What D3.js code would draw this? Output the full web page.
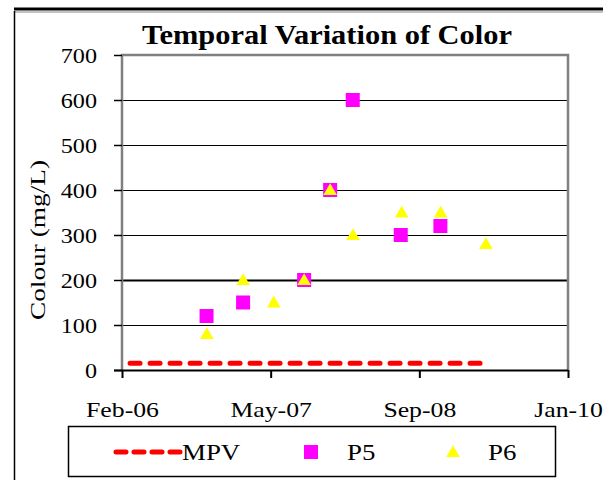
<!DOCTYPE html>
<html>
<head>
<meta charset="utf-8">
<script src="https://cdn.jsdelivr.net/npm/d3@7"></script>
<style>
  body { margin: 0; background: #fff; }
  text { font-family: "Liberation Serif", "Times New Roman", serif; fill: #000; }
</style>
</head>
<body>
<svg id="chart" width="603" height="480"></svg>
<script>
// Data
var p5Dates = ["2006-11-01", "2007-02-27", "2007-09-12", "2007-12-05", "2008-02-16", "2008-07-20", "2008-11-25"];
var p5Values = [120, 150, 200, 400, 600, 300, 320];
var p6Dates = ["2006-11-02", "2007-02-27", "2007-06-06", "2007-09-12", "2007-12-05", "2008-02-17", "2008-07-23", "2008-11-26", "2009-04-21"];
var p6Values = [80, 200, 150, 200, 400, 300, 350, 350, 280];
var mpvDates = ["2006-02-27", "2009-04-28"];
var mpvValues = [15, 15];
var yTicks = [0, 100, 200, 300, 400, 500, 600, 700];

var parse = d3.timeParse("%Y-%m-%d");
var start = parse("2006-02-01");
var xTicks = [0, 1, 2, 3].map(function(i) { return d3.timeDay.offset(start, i * 480); });

var svg = d3.select("#chart"),
  margin = {left: 122, right: 35, top: 55, bottom: 110},
  width = 603 - margin.left - margin.right,
  height = 480 - margin.top - margin.bottom;

// stretch text horizontally, the reference type is wide
function stretch(sel, k) {
  sel.each(function() {
    var w = this.getComputedTextLength();
    d3.select(this).attr("textLength", w * k).attr("lengthAdjust", "spacingAndGlyphs");
  });
}

// outer frame
svg.append("line").attr("x1", 14).attr("x2", 603).attr("y1", 9).attr("y2", 9)
  .attr("stroke", "#000").attr("stroke-width", 3);
svg.append("line").attr("x1", 14).attr("x2", 603).attr("y1", 12).attr("y2", 12)
  .attr("stroke", "#888").attr("stroke-width", 1);
svg.append("line").attr("x1", 14.5).attr("x2", 14.5).attr("y1", 11).attr("y2", 480)
  .attr("stroke", "#000").attr("stroke-width", 1.5);

var x = d3.scaleTime()
  .domain([xTicks[0], xTicks[3]])
  .range([0, width]);
var y = d3.scaleLinear()
  .domain([0, 700])
  .range([height, 0]);

var g = svg.append("g").attr("transform", "translate(" + margin.left + "," + margin.top + ")");

// gridlines
g.selectAll(".grid")
  .data(yTicks.filter(function(d) { return d > 0 && d < 700; }))
  .enter().append("line")
  .attr("x1", 0).attr("x2", width)
  .attr("y1", function(d) { return Math.round(y(d)) + 0.5; })
  .attr("y2", function(d) { return Math.round(y(d)) + 0.5; })
  .attr("stroke", "#000")
  .attr("stroke-width", function(d) { return d === 200 ? 2 : 1; });

// plot border (gray)
g.append("path")
  .attr("d", "M0," + height + "V0H" + width + "V" + height)
  .attr("fill", "none").attr("stroke", "#808080").attr("stroke-width", 2.5);

// y axis
var yAxis = g.append("g")
  .call(d3.axisLeft(y).tickValues(yTicks).tickSize(8).tickPadding(17));
yAxis.select(".domain").remove();
yAxis.selectAll(".tick line").attr("stroke", "#000").attr("stroke-width", 1.5);
yAxis.selectAll("text")
  .style("font-size", "21px")
  .attr("dy", "0.35em")
  .call(stretch, 1.15);

// x axis
var xAxis = g.append("g")
  .attr("transform", "translate(0," + height + ")")
  .call(d3.axisBottom(x).tickValues(xTicks).tickFormat(d3.timeFormat("%b-%y")).tickSize(8).tickPadding(23));
xAxis.select(".domain").remove();
xAxis.selectAll(".tick line").attr("stroke", "#000").attr("stroke-width", 2);
xAxis.selectAll("text")
  .style("font-size", "22px")
  .call(stretch, 1.17);
g.append("line")
  .attr("x1", -8).attr("x2", width)
  .attr("y1", height + 0.5).attr("y2", height + 0.5)
  .attr("stroke", "#000").attr("stroke-width", 2);

// MPV line
var line = d3.line()
  .x(function(d) { return x(d[0]); })
  .y(function(d) { return y(d[1]); });
g.append("path")
  .datum(mpvDates.map(function(d, i) { return [parse(d), mpvValues[i]]; }))
  .attr("d", line)
  .attr("fill", "none")
  .attr("stroke", "#ff0000")
  .attr("stroke-width", 5)
  .attr("stroke-linecap", "round")
  .attr("stroke-dasharray", "10,10");

// P5 squares
g.selectAll(".p5")
  .data(p5Dates.map(function(d, i) { return [parse(d), p5Values[i]]; }))
  .enter().append("rect")
  .attr("x", function(d) { return x(d[0]) - 7; })
  .attr("y", function(d) { return y(d[1]) - 7; })
  .attr("width", 14).attr("height", 14)
  .attr("fill", "#ff00ff");

// P6 triangles
var tri = d3.symbol().type(d3.symbolTriangle).size(80);
g.selectAll(".p6")
  .data(p6Dates.map(function(d, i) { return [parse(d), p6Values[i]]; }))
  .enter().append("path")
  .attr("d", tri)
  .attr("transform", function(d) { return "translate(" + x(d[0]) + "," + (y(d[1]) + 1) + ")"; })
  .attr("fill", "#ffff00");

// title
svg.append("text")
  .attr("x", 327).attr("y", 44)
  .attr("text-anchor", "middle")
  .style("font-size", "27px").style("font-weight", "bold")
  .attr("textLength", 370).attr("lengthAdjust", "spacingAndGlyphs")
  .text("Temporal Variation of Color");

// y label
svg.append("text")
  .attr("transform", "translate(45,240) rotate(-90)")
  .attr("text-anchor", "middle")
  .style("font-size", "21px")
  .attr("textLength", 160).attr("lengthAdjust", "spacingAndGlyphs")
  .text("Colour  (mg/L)");

// legend
var lg = svg.append("g");
lg.append("rect")
  .attr("x", 68.5).attr("y", 426.5).attr("width", 487).attr("height", 50)
  .attr("fill", "none").attr("stroke", "#000").attr("stroke-width", 1.5);
lg.append("line")
  .attr("x1", 116).attr("x2", 180).attr("y1", 452).attr("y2", 452)
  .attr("stroke", "#ff0000").attr("stroke-width", 5)
  .attr("stroke-linecap", "round").attr("stroke-dasharray", "10,8");
lg.append("text").attr("x", 182).attr("y", 460).style("font-size", "24px").text("MPV").call(stretch, 1.12);
lg.append("rect").attr("x", 304).attr("y", 445).attr("width", 14).attr("height", 14).attr("fill", "#ff00ff");
lg.append("text").attr("x", 347).attr("y", 460).style("font-size", "24px").text("P5").call(stretch, 1.12);
lg.append("path").attr("d", tri).attr("transform", "translate(453,453)").attr("fill", "#ffff00");
lg.append("text").attr("x", 488).attr("y", 460).style("font-size", "24px").text("P6").call(stretch, 1.12);
</script>
</body>
</html>
